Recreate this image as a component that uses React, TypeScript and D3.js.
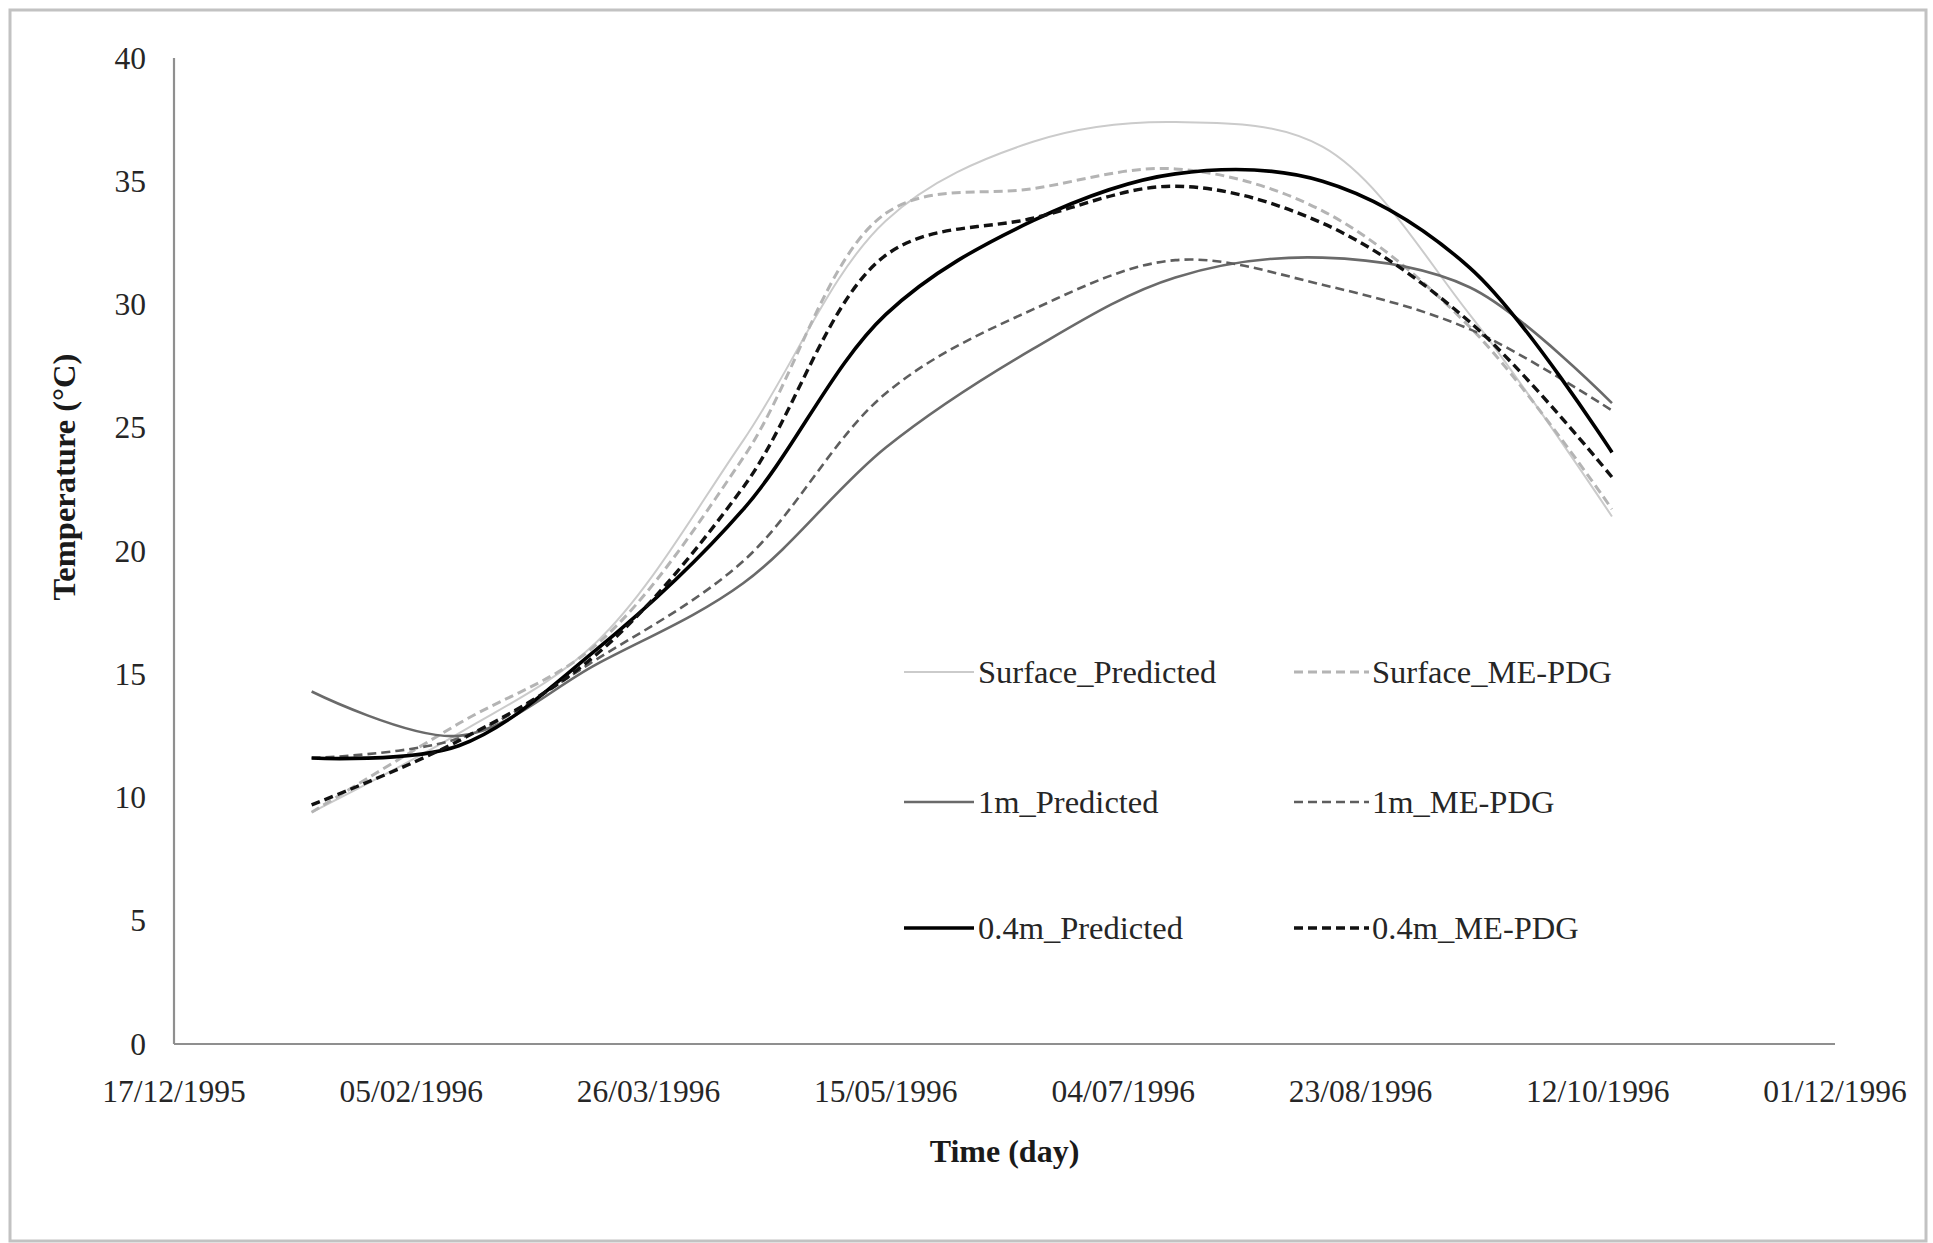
import React, { useEffect } from "react";
import * as d3 from "d3";

// ---- Data (monthly values, 15th of each month, 1996) ----
const sampleDates = [
  "1996-01-15", "1996-02-15", "1996-03-15", "1996-04-15", "1996-05-15",
  "1996-06-15", "1996-07-15", "1996-08-15", "1996-09-15", "1996-10-15",
];
const surfacePredicted = [9.4, 12.6, 16.3, 24.5, 33.4, 36.6, 37.4, 36.4, 29.6, 21.4];
const surfaceMEPDG = [9.4, 13.0, 16.2, 23.8, 33.7, 34.7, 35.5, 33.8, 29.1, 21.7];
const m1Predicted = [14.3, 12.5, 15.4, 18.7, 24.2, 28.2, 31.1, 31.9, 30.7, 26.0];
const m1MEPDG = [11.6, 12.4, 15.6, 19.6, 26.4, 29.8, 31.8, 30.8, 29.0, 25.7];
const m04Predicted = [11.6, 12.1, 16.0, 21.7, 29.6, 33.4, 35.3, 35.0, 31.5, 24.0];
const m04MEPDG = [9.7, 12.3, 15.8, 22.6, 32.0, 33.5, 34.8, 33.3, 29.3, 23.0];

const seriesNames = [
  "Surface_Predicted", "Surface_ME-PDG",
  "1m_Predicted", "1m_ME-PDG",
  "0.4m_Predicted", "0.4m_ME-PDG",
];

const xTickDates = [
  "1995-12-17", "1996-02-05", "1996-03-26", "1996-05-15",
  "1996-07-04", "1996-08-23", "1996-10-12", "1996-12-01",
];
const yTickValues = [0, 5, 10, 15, 20, 25, 30, 35, 40];

const xTitle = "Time (day)";
const yTitle = "Temperature (°C)";

// ---- Styles ----
const styles = [
  { color: "#cbcbcb", width: 2, dash: "" },
  { color: "#b4b4b4", width: 3, dash: "9,5" },
  { color: "#6a6a6a", width: 2.6, dash: "" },
  { color: "#5e5e5e", width: 2.6, dash: "9,5" },
  { color: "#000000", width: 3.6, dash: "" },
  { color: "#111111", width: 3.4, dash: "9,5" },
];

const W = 1933;
const H = 1243;
const M = { left: 174, right: 1835, top: 58, bottom: 1044 };
const FONT = "'Liberation Serif', 'Times New Roman', serif";

const parse = (s: string) => {
  const [y, m, d] = s.split("-").map(Number);
  return new Date(Date.UTC(y, m - 1, d));
};

export default function App() {
  useEffect(() => {
    document.body.style.margin = "0";
    document.body.style.overflow = "hidden";
  }, []);

  const x = d3
    .scaleUtc()
    .domain([parse(xTickDates[0]), parse(xTickDates[xTickDates.length - 1])])
    .range([M.left, M.right]);
  const y = d3.scaleLinear().domain([0, 40]).range([M.bottom, M.top]);

  const allSeries = [surfacePredicted, surfaceMEPDG, m1Predicted, m1MEPDG, m04Predicted, m04MEPDG];
  const dates = sampleDates.map(parse);

  const line = d3
    .line<[Date, number]>()
    .x((d) => x(d[0]))
    .y((d) => y(d[1]))
    .curve(d3.curveCatmullRom.alpha(0.5));

  const fmt = d3.utcFormat("%d/%m/%Y");

  const legendRows = [672, 802, 928];
  const legendCols = [{ x0: 904, x1: 974, tx: 978 }, { x0: 1294, x1: 1369, tx: 1372 }];

  return (
    <div style={{ position: "fixed", left: 0, top: 0 }}>
      <svg width={W} height={H} style={{ display: "block", background: "#fff" }}>
        <rect x={10} y={10} width={1916} height={1231} fill="#fff" stroke="#c2c2c2" strokeWidth={3} />

        {/* axes */}
        <line x1={M.left} x2={M.left} y1={M.top} y2={M.bottom} stroke="#8f8f8f" strokeWidth={2.2} />
        <line x1={M.left} x2={M.right} y1={M.bottom} y2={M.bottom} stroke="#8f8f8f" strokeWidth={2.2} />

        {yTickValues.map((v) => (
          <text key={v} x={146} y={y(v)} dy="0.34em" textAnchor="end" fontFamily={FONT} fontSize={31.5} fill="#262626">
            {v}
          </text>
        ))}
        {xTickDates.map((s) => (
          <text key={s} x={x(parse(s))} y={1102} textAnchor="middle" fontFamily={FONT} fontSize={31.5} fill="#262626">
            {fmt(parse(s))}
          </text>
        ))}

        <text x={(M.left + M.right) / 2} y={1162} textAnchor="middle" fontFamily={FONT} fontSize={32} fontWeight="bold" fill="#1a1a1a">
          {xTitle}
        </text>
        <text transform="translate(75,477) rotate(-90)" textAnchor="middle" fontFamily={FONT} fontSize={32.5} fontWeight="bold" fill="#1a1a1a">
          {yTitle}
        </text>

        {/* series */}
        {allSeries.map((vals, i) => (
          <path
            key={seriesNames[i]}
            d={line(vals.map((v, j) => [dates[j], v] as [Date, number])) || ""}
            fill="none"
            stroke={styles[i].color}
            strokeWidth={styles[i].width}
            strokeDasharray={styles[i].dash || undefined}
          />
        ))}

        {/* legend */}
        {seriesNames.map((name, i) => {
          const r = Math.floor(i / 2);
          const c = i % 2;
          const ly = legendRows[r];
          const col = legendCols[c];
          return (
            <g key={name}>
              <line x1={col.x0} x2={col.x1} y1={ly} y2={ly} stroke={styles[i].color} strokeWidth={styles[i].width} strokeDasharray={styles[i].dash || undefined} />
              <text x={col.tx} y={ly} dy="0.34em" fontFamily={FONT} fontSize={32.5} fill="#262626">
                {name}
              </text>
            </g>
          );
        })}
      </svg>
    </div>
  );
}
